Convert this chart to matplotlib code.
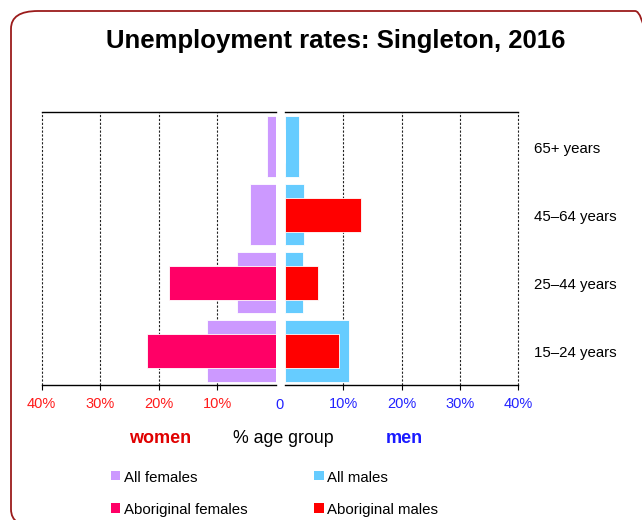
"""Unemployment rates by age group, Singleton 2016: women (left) vs men (right)."""
import matplotlib
matplotlib.use("Agg")
import matplotlib.pyplot as plt
from matplotlib.patches import FancyBboxPatch, Rectangle

plt.rcParams["font.family"] = ["Liberation Sans", "DejaVu Sans"]

age_groups = ["15–24 years", "25–44 years", "45–64 years", "65+ years"]
all_females = [11.7, 6.7, 4.4, 1.5]
aboriginal_females = [22.0, 18.3, 0.0, 0.0]
all_males = [11.0, 3.1, 3.3, 2.35]
aboriginal_males = [9.3, 5.7, 13.0, 0.0]

c_all_f = "#CC99FF"
c_abo_f = "#FF0066"
c_all_m = "#66CCFF"
c_abo_m = "#FF0000"

W, H = 642, 520
fig = plt.figure(figsize=(W / 100, H / 100), dpi=100)


def px(x, y):
    # pixel position (from top-left) -> figure fraction
    return x / W, 1 - y / H


# rounded frame, running off the right and bottom edges
frame = FancyBboxPatch(px(11, 527), (W + 20 - 11) / W, (527 - 11) / H,
                       boxstyle="round,pad=0,rounding_size=0.042",
                       transform=fig.transFigure, fill=False,
                       edgecolor="#9B1B1B", lw=1.3, mutation_aspect=H / W)
fig.add_artist(frame)

fig.text(*px(336, 48), "Unemployment rates: Singleton, 2016",
         ha="center", va="baseline", fontsize=18.5, fontweight="bold")

bottom = 1 - 385 / H
height = (385 - 112.3) / H
ax_l = fig.add_axes([41.7 / W, bottom, (276 - 41.7) / W, height])
ax_r = fig.add_axes([285 / W, bottom, (518 - 285) / W, height])

ypos = list(range(len(age_groups)))
ax_l.barh(ypos, all_females, height=0.9, color=c_all_f, edgecolor="white", lw=0.6)
ax_l.barh(ypos, aboriginal_females, height=0.5, color=c_abo_f, edgecolor="white", lw=0.6)
ax_r.barh(ypos, all_males, height=0.9, color=c_all_m, edgecolor="white", lw=0.6)
ax_r.barh(ypos, aboriginal_males, height=0.5, color=c_abo_m, edgecolor="white", lw=0.6)

ax_l.set_xlim(40, 0)
ax_r.set_xlim(0, 40)
for ax, ticks, col in ((ax_l, [40, 30, 20, 10], "#FF1A1A"),
                       (ax_r, [10, 20, 30, 40], "#2222FF")):
    ax.set_ylim(-0.5, 3.5)
    ax.set_yticks([])
    ax.set_xticks(ticks)
    ax.set_xticklabels([f"{t}%" for t in ticks])
    ax.tick_params(axis="x", length=3.5, width=0.8, pad=5.5,
                   labelsize=10.5, labelcolor=col)
    ax.spines["left"].set_visible(False)
    ax.spines["right"].set_visible(False)
    ax.spines["top"].set_linewidth(1.0)
    ax.spines["bottom"].set_linewidth(1.0)
    for t in ticks:
        ax.axvline(t, color="#222222", lw=0.8, ls=(0, (2, 1.5)),
                   zorder=0, clip_on=False)
    ax.set_axisbelow(True)

fig.text(*px(279, 398), "0", ha="center", va="top", fontsize=10.5, color="#2222FF")

for y, lab in zip(ypos, age_groups):
    ax_r.text((534 - 285) / (518 - 285), y - 0.09, lab,
              transform=ax_r.get_yaxis_transform(), ha="left", va="baseline",
              fontsize=10.8)

fig.text(*px(160, 443), "women", ha="center", va="baseline",
         fontsize=13, fontweight="bold", color="#E00000")
fig.text(*px(283, 443), "% age group", ha="center", va="baseline", fontsize=12.8)
fig.text(*px(404, 443), "men", ha="center", va="baseline",
         fontsize=13, fontweight="bold", color="#1A1AFF")

legend_items = [("All females", c_all_f, 110.7, 470.7),
                ("Aboriginal females", c_abo_f, 110.7, 503.3),
                ("All males", c_all_m, 314, 470.7),
                ("Aboriginal males", c_abo_m, 314, 503.3)]
for lab, col, x, y in legend_items:
    fig.add_artist(Rectangle(px(x, y + 9.5), 9.5 / W, 9.5 / H,
                             transform=fig.transFigure, color=col, lw=0))
    fig.text(*px(x + 13, y + 11), lab, ha="left", va="baseline", fontsize=10.8)

fig.savefig("out.png", dpi=100)
